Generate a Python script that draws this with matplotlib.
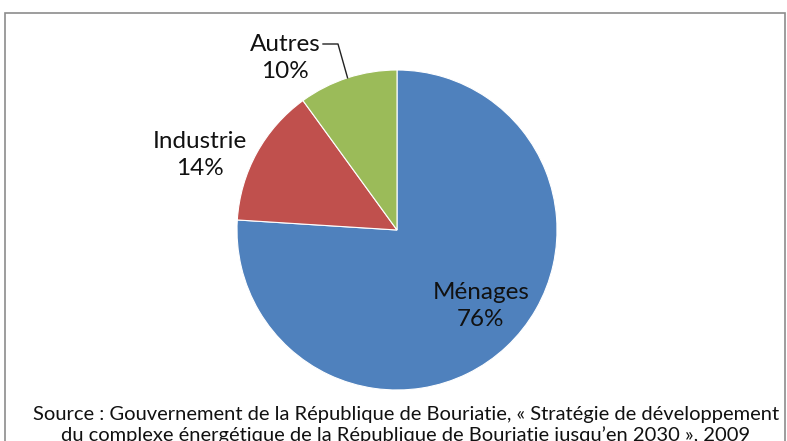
import numpy as np
import matplotlib.pyplot as plt
from matplotlib.patches import Rectangle

labels = ["Ménages", "Industrie", "Autres"]
shares = [76, 14, 10]
colors = ["#4F81BD", "#C0504D", "#9BBB59"]
source = ("Source : Gouvernement de la République de Bouriatie, « Stratégie de développement\n"
          "du complexe énergétique de la République de Bouriatie jusqu\u2019en 2030 », 2009")

plt.rcParams['font.family'] = ['Lato', 'DejaVu Sans']

W, H = 787, 441
fig = plt.figure(figsize=(W / 100, H / 100), dpi=100)
ax = fig.add_axes([0, 0, 1, 1])

# pie in pixel units, y measured from the bottom
cx, cy, r = 397, H - 230, 160
wedges, _ = ax.pie(shares, colors=colors, startangle=90, counterclock=False,
                   center=(cx, cy), radius=r,
                   wedgeprops=dict(edgecolor="white", linewidth=0.8))
ax.set_xlim(0, W)
ax.set_ylim(0, H)
ax.set_aspect("equal")
ax.axis("off")

# chart frame
ax.add_patch(Rectangle((5, -10), 780, H - 13 + 10, fill=False,
                       edgecolor="#8c8c8c", linewidth=1.2, clip_on=False))

lab_pos = [(481, 306), (200, 155), (285, 58)]
for lab, val, (x, y) in zip(labels, shares, lab_pos):
    ax.text(x, H - y, f"{lab}\n{val}%", ha="center", va="center",
            fontsize=17.5, linespacing=1.38, color="#111111")

# leader line for the small slice
w = wedges[2]
mid = np.deg2rad((w.theta1 + w.theta2) / 2)
ex, ey = cx + r * np.cos(mid), cy + r * np.sin(mid)
ax.plot([323, 338, ex], [H - 44, H - 44, ey], color="#222222", lw=1)

# source note runs off the bottom edge of the frame
ax.text(406, H - 425, source, ha="center", va="center", fontsize=14.5,
        linespacing=1.25, color="#111111")

fig.savefig("out.png", dpi=100)
